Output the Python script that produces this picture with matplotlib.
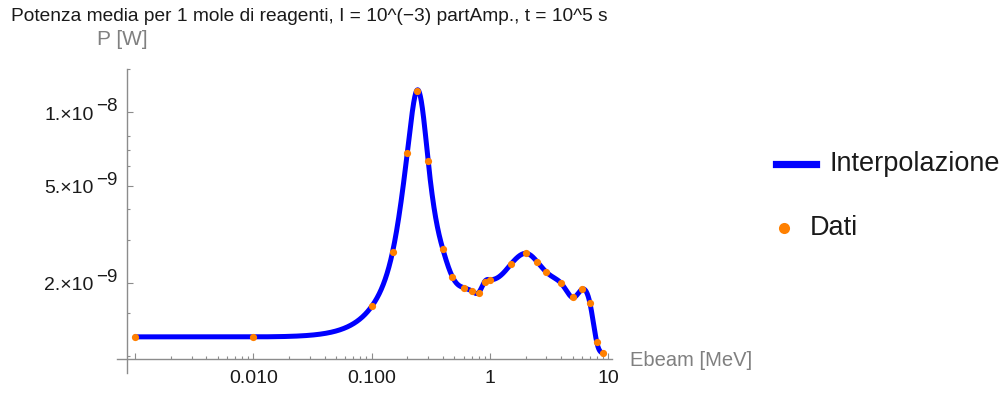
import numpy as np
import matplotlib
matplotlib.use('Agg')
import matplotlib.pyplot as plt
import matplotlib.transforms as mtransforms
from matplotlib.lines import Line2D
from matplotlib.patches import Rectangle

# dati: energia del fascio [MeV] e potenza media [W]
ebeam = [0.001, 0.01, 0.1, 0.15, 0.2, 0.24, 0.3, 0.4, 0.48, 0.6, 0.7, 0.8, 0.9, 1.0,
         1.5, 2.0, 2.5, 3.0, 4.0, 5.0, 6.0, 7.0, 8.0, 9.0]
potenza = [1.20e-9, 1.20e-9, 1.60e-9, 2.67e-9, 6.83e-9, 1.227e-8, 6.32e-9, 2.74e-9,
           2.12e-9, 1.91e-9, 1.85e-9, 1.82e-9, 2.02e-9, 2.06e-9,
           2.38e-9, 2.64e-9, 2.44e-9, 2.21e-9, 1.99e-9, 1.74e-9, 1.88e-9, 1.65e-9,
           1.14e-9, 1.03e-9]

y_major = [2e-9, 5e-9, 1e-8]
y_mantissa = ['2.\u00d710', '5.\u00d710', '1.\u00d710']
y_esponente = ['\u22129', '\u22129', '\u22128']
y_minor = [1e-9, 1.5e-9, 3e-9, 4e-9, 6e-9, 7e-9, 8e-9, 1.5e-8]
x_major = [0.001, 0.01, 0.1, 1, 10]
x_major_labels = ['', '0.010', '0.100', '1', '10']

titolo = 'Potenza media per 1 mole di reagenti, I = 10^(\u22123) partAmp., t = 10^5 s'


def spline_naturale(x, y, xs):
    # spline cubica naturale
    x = np.asarray(x, float)
    y = np.asarray(y, float)
    n = len(x)
    h = np.diff(x)
    A = np.zeros((n, n))
    r = np.zeros(n)
    A[0, 0] = A[-1, -1] = 1
    for i in range(1, n - 1):
        A[i, i - 1] = h[i - 1]
        A[i, i] = 2 * (h[i - 1] + h[i])
        A[i, i + 1] = h[i]
        r[i] = 6 * ((y[i + 1] - y[i]) / h[i] - (y[i] - y[i - 1]) / h[i - 1])
    M = np.linalg.solve(A, r)
    k = np.clip(np.searchsorted(x, xs) - 1, 0, n - 2)
    hk = h[k]
    a = x[k + 1] - xs
    b = xs - x[k]
    return (M[k] * a ** 3 / (6 * hk) + M[k + 1] * b ** 3 / (6 * hk)
            + (y[k] / hk - M[k] * hk / 6) * a + (y[k + 1] / hk - M[k + 1] * hk / 6) * b)


plt.rcParams['font.family'] = ['Liberation Sans', 'DejaVu Sans']

grigio = '#8c8c8c'
blu = '#0000ff'
arancio = '#ff8000'
testo = '#1a1a1a'

fig = plt.figure(figsize=(9.99, 3.94), dpi=100)
ax = fig.add_axes([0.1168, 0.0533, 0.6123 - 0.1168, 0.8241 - 0.0533])
ax.set_xscale('log')
ax.set_yscale('log')

x0 = 10 ** -3.071   # posizione asse y
y0 = 10 ** -9.010   # posizione asse x
ax.set_xlim(10 ** -3.156, 10 ** 1.029)
ax.set_ylim(10 ** -9.069, 10 ** -7.824)

# interpolazione: x lineare, y logaritmica
xs = np.logspace(np.log10(ebeam[0]), np.log10(ebeam[-1]), 3000)
ys = 10 ** spline_naturale(ebeam, np.log10(potenza), xs)
linea, = ax.plot(xs, ys, color=blu, lw=3.6, solid_capstyle='round', zorder=2)
clip = Rectangle((x0, y0), 100, 1, transform=ax.transData)
linea.set_clip_path(clip)
ax.plot(ebeam, potenza, 'o', color=arancio, ms=5.2, mew=0, zorder=3)

for s in ['top', 'right']:
    ax.spines[s].set_visible(False)
ax.spines['left'].set_position(('data', x0))
ax.spines['bottom'].set_position(('data', y0))
for s in ['left', 'bottom']:
    ax.spines[s].set_color(grigio)
    ax.spines[s].set_linewidth(1.0)

ax.set_yticks(y_major)
ax.set_yticklabels([])
ax.set_yticks(y_minor, minor=True)
ax.set_yticklabels([], minor=True)
ax.set_xticks(x_major)
ax.set_xticklabels(x_major_labels)
ax.set_xticks([m * 10.0 ** e for e in range(-3, 1) for m in range(2, 10)], minor=True)
ax.set_xticklabels([], minor=True)

ax.tick_params(which='both', direction='in', color=grigio, width=0.8,
               labelsize=14, labelcolor=testo)
ax.tick_params(which='major', length=4.5)
ax.tick_params(which='minor', length=2.5)
ax.tick_params(axis='x', pad=8)

# etichette y nello stile 1.×10^-8 (esponente quasi a grandezza piena)
trans_y = mtransforms.blended_transform_factory(fig.transFigure, ax.transData)
for v, m, e in zip(y_major, y_mantissa, y_esponente):
    t_m = mtransforms.offset_copy(trans_y, fig=fig, y=-3, units='dots')
    t_e = mtransforms.offset_copy(trans_y, fig=fig, y=5.6, units='dots')
    ax.text(93.5 / 999, v, m, transform=t_m, ha='right', va='center',
            fontsize=14, color=testo)
    ax.text(96.5 / 999, v, e, transform=t_e, ha='left', va='center',
            fontsize=13.5, color=testo)

# etichette degli assi alla maniera di Mathematica
fig.text(96.7 / 999, 1 - 45 / 394, 'P [W]', fontsize=15, color='#808080', va='baseline')
fig.text(630 / 999, 1 - 366.5 / 394, 'Ebeam [MeV]', fontsize=14.5, color='#808080', va='baseline')
fig.text(10.7 / 999, 1 - 20.7 / 394, titolo, fontsize=13.8, color=testo, va='baseline')

# legenda
fig.add_artist(Line2D([775.7 / 999, 816 / 999], [1 - 164 / 394] * 2, color=blu, lw=5.2,
                      transform=fig.transFigure))
fig.text(830 / 999, 1 - 164 / 394, 'Interpolazione', fontsize=19.5, color=testo, va='center')
fig.add_artist(Line2D([784 / 999], [1 - 228 / 394], marker='o', color=arancio, ms=8, mew=0,
                      transform=fig.transFigure))
fig.text(810 / 999, 1 - 228 / 394, 'Dati', fontsize=19.5, color=testo, va='center')

fig.savefig('out.png', dpi=100)
